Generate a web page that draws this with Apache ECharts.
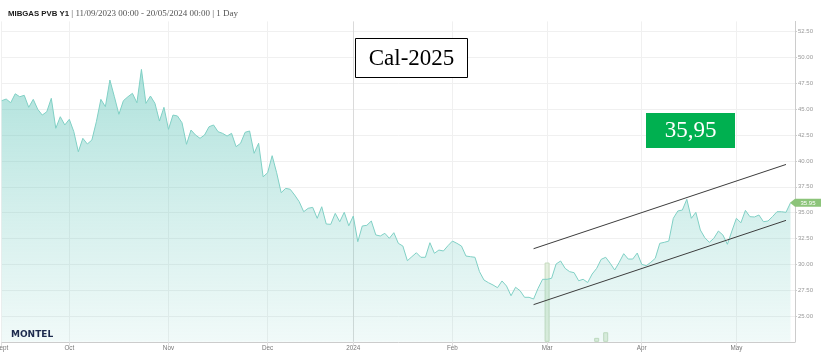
<!DOCTYPE html>
<html>
<head>
<meta charset="utf-8">
<style>html,body{margin:0;padding:0;background:#fff}#c{width:823px;height:361px}</style>
<script src="https://cdn.jsdelivr.net/npm/echarts@6/dist/echarts.min.js"></script>
</head>
<body>
<div id="c"></div>
<script>
// ---- data ----
const titleMain = 'MIBGAS PVB Y1';
const titleSub = '| 11/09/2023 00:00 - 20/05/2024 00:00 | 1 Day';
const startDate = '2023-09-11';
const endDate = '2024-05-20';
const holidays = ['2023-12-25', '2023-12-26', '2024-01-01', '2024-04-01', '2024-05-01'];
const tickLabels = ['Sept', 'Oct', 'Nov', 'Dec', '2024', 'Feb', 'Mar', 'Apr', 'May'];
const yTicks = { min: 22.5, max: 53.5, step: 2.5 };
const prices = [
  45.83, 45.99, 45.63, 46.50, 46.21, 46.35, 45.19, 45.96, 44.99, 44.44,
  44.76, 46.06, 43.16, 44.28, 43.48, 44.03, 42.83, 40.89, 42.19, 41.64,
  42.02, 43.79, 45.96, 45.25, 47.83, 46.21, 44.51, 45.83, 46.21, 46.54,
  45.63, 48.86, 45.57, 46.28, 45.57, 43.86, 45.19, 43.06, 44.44, 44.35,
  43.70, 41.61, 42.99, 42.51, 42.19, 42.51, 43.31, 43.48, 42.83, 42.67,
  42.41, 42.67, 41.38, 41.71, 42.77, 42.90, 40.74, 41.71, 38.47, 38.86,
  40.51, 38.86, 36.93, 37.35, 37.26, 36.70, 36.06, 35.09, 35.42, 35.51,
  34.45, 35.57, 33.90, 33.87, 34.93, 34.12, 35.03, 33.73, 34.67, 32.19,
  33.71, 33.77, 34.19, 32.84, 32.74, 33.00, 32.52, 33.06, 32.03, 31.77,
  30.35, 30.74, 31.12, 30.68, 30.68, 32.09, 31.07, 31.38, 31.29, 31.80,
  32.25, 32.03, 31.77, 30.80, 30.74, 30.68, 29.29, 28.48, 28.22, 28.00,
  27.74, 28.39, 27.90, 26.96, 27.78, 27.45, 26.81, 26.81, 26.64, 27.68,
  28.55, 28.55, 28.65, 30.03, 30.32, 29.61, 29.29, 29.19, 28.41, 28.55,
  28.24, 29.06, 29.61, 30.48, 30.68, 30.10, 29.45, 30.19, 31.03, 30.51,
  30.51, 31.09, 30.00, 29.87, 30.19, 30.58, 32.03, 32.13, 32.25, 34.45,
  35.16, 35.25, 36.29, 34.45, 35.03, 33.32, 32.57, 32.13, 32.52, 33.22,
  32.84, 31.94, 33.22, 34.45, 34.02, 35.22, 34.61, 34.58, 34.77, 34.12,
  34.19, 34.61, 35.09, 35.09, 35.03, 35.95
];
const volumeIdx = [121, 132, 134];
const volumeVals = [99, 5, 12];
const trendUpper = [[118, 31.51], [174, 39.66]];
const trendLower = [[118, 26.10], [174, 34.25]];
const annotationCal = 'Cal-2025';
const annotationPrice = '35,95';
const logoText = 'MONTEL';

// ---- trading-day categories ----
const categories = [];
(function () {
  const d = new Date(startDate + 'T00:00:00Z');
  const end = new Date(endDate + 'T00:00:00Z');
  while (d <= end) {
    const wd = d.getUTCDay();
    const s = d.toISOString().slice(0, 10);
    if (wd !== 0 && wd !== 6 && holidays.indexOf(s) < 0) categories.push(s);
    d.setUTCDate(d.getUTCDate() + 1);
  }
  categories.push(''); // right padding slot up to the axis
})();
const labelAt = {};
let m = 0;
for (let i = 0; i < categories.length; i++) {
  if (!categories[i]) continue;
  if (i === 0 || categories[i].slice(5, 7) !== categories[i - 1].slice(5, 7)) {
    labelAt[i] = tickLabels[m++];
  }
}
const isMonth = (i) => labelAt[i] !== undefined;

const chart = echarts.init(document.getElementById('c'), null, { renderer: 'canvas' });
const gridTop = 21.4, gridBottom = 19.15;
const vLineColors = tickLabels.map(t => t === '2024' ? '#dadada' : '#f0f0f0');
const lastIdx = prices.length - 1;

chart.setOption({
  animation: false,
  title: {
    left: 8, top: 9, padding: 0,
    text: '{b|' + titleMain + '}{s| ' + titleSub + '}',
    textStyle: {
      rich: {
        b: { fontFamily: 'Liberation Sans', fontWeight: 'bold', fontSize: 7.8, color: '#1a1a1a' },
        s: { fontFamily: 'Liberation Serif', fontWeight: 'normal', fontSize: 9, color: '#555' }
      }
    }
  },
  grid: { left: 1.7, right: 28, top: gridTop, bottom: gridBottom, containLabel: false, outerBoundsMode: 'none' },
  xAxis: {
    type: 'category',
    data: categories,
    boundaryGap: false,
    axisLine: { show: true, lineStyle: { color: '#cccccc', width: 1 } },
    axisTick: { show: true, interval: isMonth, length: 4, lineStyle: { color: '#dddddd' } },
    axisLabel: {
      interval: isMonth,
      formatter: (v, i) => labelAt[i] || '',
      fontFamily: 'Liberation Sans', fontSize: 6.3, color: '#777', margin: 3
    },
    splitLine: { show: true, interval: isMonth, lineStyle: { color: vLineColors, width: 1 } }
  },
  yAxis: [{
    type: 'value',
    position: 'right',
    min: yTicks.min, max: yTicks.max, interval: yTicks.step,
    axisLine: { show: true, lineStyle: { color: '#cccccc', width: 1 } },
    axisTick: { show: true, length: 2, lineStyle: { color: '#cccccc' } },
    axisLabel: {
      showMinLabel: false, showMaxLabel: false,
      formatter: v => v.toFixed(2),
      fontFamily: 'Liberation Sans', fontSize: 6, color: '#999', margin: 3
    },
    splitLine: { show: true, showMinLine: false, showMaxLine: false, lineStyle: { color: '#f0f0f0', width: 1 } }
  }, {
    type: 'value', show: false, min: 0, max: 400, position: 'left',
    splitLine: { show: false }
  }],
  series: [{
    type: 'line',
    data: prices,
    symbol: 'none',
    lineStyle: { color: '#80d0c5', width: 1 },
    areaStyle: {
      opacity: 1,
      color: new echarts.graphic.LinearGradient(0, 0, 0, 1, [
        { offset: 0, color: 'rgba(96,197,185,0.50)' },
        { offset: 0.5, color: 'rgba(96,197,185,0.28)' },
        { offset: 1, color: 'rgba(96,197,185,0.09)' }
      ])
    },
    markLine: {
      silent: true, symbol: ['none', 'none'], animation: false,
      label: { show: false },
      lineStyle: { color: '#3c3c3c', width: 1, type: 'solid' },
      data: [
        [{ coord: trendUpper[0] }, { coord: trendUpper[1] }],
        [{ coord: trendLower[0] }, { coord: trendLower[1] }]
      ]
    },
    markPoint: {
      silent: true, animation: false,
      symbol: 'path://M0,4 L5,0 L31,0 L31,8 L5,8 Z',
      symbolSize: [31, 8],
      symbolKeepAspect: false,
      symbolOffset: [15, 0],
      itemStyle: { color: '#8cc47a' },
      label: {
        show: true, position: 'inside', offset: [2.5, 0.5],
        color: '#fff', fontSize: 6, fontFamily: 'Liberation Sans',
        formatter: p => Number(p.value).toFixed(2)
      },
      data: [{ coord: [lastIdx, prices[lastIdx]], value: prices[lastIdx] }]
    }
  }, {
    type: 'bar',
    yAxisIndex: 1,
    barWidth: 5,
    data: volumeIdx.map((d, i) => [d, volumeVals[i]]),
    itemStyle: { color: '#e3efde', borderColor: '#c6dbbf', borderWidth: 1 }
  }],
  graphic: [
    { type: 'rect', shape: { x: 355.5, y: 38.5, width: 112, height: 39 }, style: { fill: '#fff', stroke: '#000', lineWidth: 1 }, z: 100 },
    { type: 'text', x: 411.5, y: 58.5, style: { text: annotationCal, font: '23px "Liberation Serif"', fill: '#000', align: 'center', verticalAlign: 'middle' }, z: 101 },
    { type: 'rect', shape: { x: 646, y: 113, width: 89, height: 35 }, style: { fill: '#00b050' }, z: 100 },
    { type: 'text', x: 690.5, y: 131, style: { text: annotationPrice, font: '23px "Liberation Serif"', fill: '#fff', align: 'center', verticalAlign: 'middle' }, z: 101 },
    { type: 'text', x: 11, y: 335, style: { text: logoText, font: 'bold 9px "DejaVu Sans"', fill: '#1c2a4d', verticalAlign: 'middle' }, z: 101 }
  ]
});
</script>
</body>
</html>
